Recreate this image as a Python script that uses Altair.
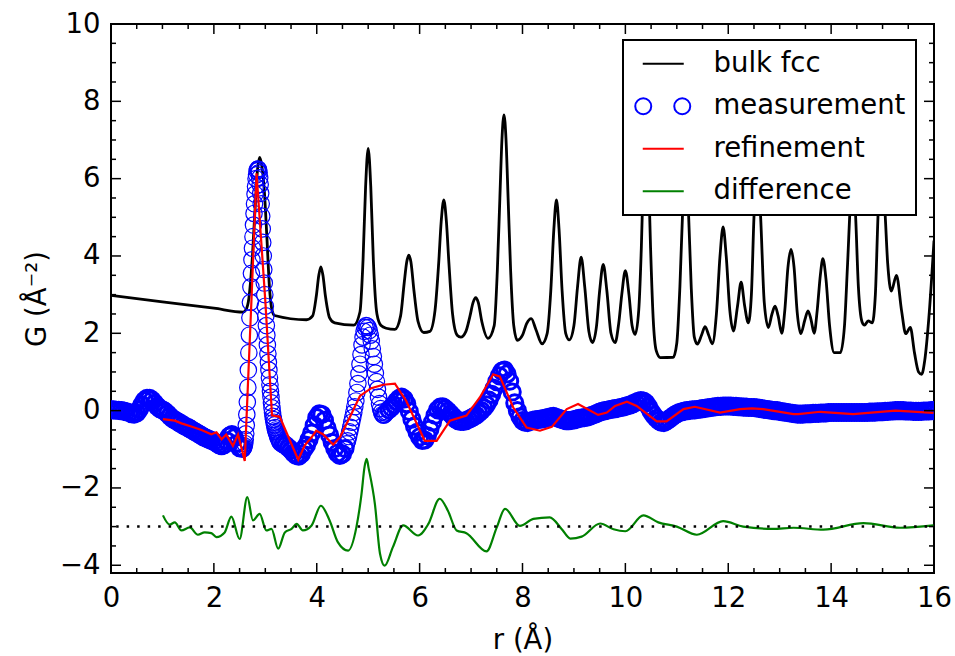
import altair as alt
import pandas as pd

FONT = "DejaVu Sans"
FS = 27.5
W, H = 823, 549

# ---------------- data ----------------
fcc_r = [0.00, 1.00, 2.00, 2.57, 2.62, 2.68, 2.74, 2.80, 2.85, 2.89, 2.93, 2.98, 3.03, 3.08, 3.13, 3.18,
         3.80, 3.92, 3.99, 4.04, 4.08, 4.12, 4.17, 4.25, 4.35, 4.72, 4.84, 4.90, 4.95, 5.00, 5.05, 5.10,
         5.17, 5.25, 5.35, 5.52, 5.63, 5.70, 5.75, 5.79, 5.83, 5.89, 5.97, 6.08, 6.20, 6.30, 6.37, 6.42,
         6.47, 6.52, 6.57, 6.64, 6.73, 6.80, 6.90, 6.98, 7.04, 7.09, 7.14, 7.21, 7.33, 7.45, 7.51, 7.56,
         7.60, 7.64, 7.68, 7.72, 7.77, 7.83, 7.90, 8.00, 8.08, 8.17, 8.26, 8.38, 8.48, 8.55, 8.61, 8.66,
         8.71, 8.77, 8.84, 8.91, 9.00, 9.07, 9.14, 9.21, 9.29, 9.36, 9.44, 9.50, 9.57, 9.64, 9.72, 9.80,
         9.87, 9.93, 10.00, 10.07, 10.13, 10.19, 10.26, 10.31, 10.36, 10.40, 10.44, 10.49, 10.54, 10.60,
         10.68, 10.93, 11.00, 11.06, 11.12, 11.17, 11.22, 11.28, 11.34, 11.40, 11.48, 11.55, 11.62, 11.69,
         11.77, 11.84, 11.90, 11.96, 12.03, 12.10, 12.18, 12.25, 12.32, 12.39, 12.45, 12.50, 12.57, 12.63,
         12.70, 12.78, 12.85, 12.91, 12.97, 13.04, 13.10, 13.16, 13.22, 13.28, 13.34, 13.41, 13.49, 13.55,
         13.61, 13.67, 13.73, 13.79, 13.84, 13.90, 13.97, 14.06, 14.18, 14.26, 14.32, 14.38, 14.42, 14.47,
         14.53, 14.60, 14.65, 14.72, 14.80, 14.86, 14.92, 14.98, 15.04, 15.10, 15.17, 15.27, 15.37, 15.45,
         15.54, 15.62, 15.70, 15.76, 15.82, 15.90, 16.00]
fcc_g = [2.98, 2.81, 2.65, 2.55, 2.60, 2.90, 3.80, 5.20, 6.25, 6.55, 6.35, 5.70, 4.50, 3.20, 2.60, 2.46,
         2.35, 2.45, 2.95, 3.50, 3.72, 3.50, 2.95, 2.40, 2.27, 2.21, 2.55, 3.90, 5.80, 6.78, 5.80, 3.90,
         2.50, 2.20, 2.13, 2.10, 2.45, 3.30, 3.85, 4.02, 3.85, 3.10, 2.30, 2.02, 2.05, 2.60, 3.80, 4.90,
         5.45, 4.90, 3.80, 2.50, 1.95, 1.90, 2.05, 2.45, 2.80, 2.92, 2.80, 2.30, 1.87, 2.20, 3.60, 5.50,
         7.00, 7.65, 7.00, 5.50, 3.60, 2.20, 1.82, 1.95, 2.25, 2.38, 2.10, 1.73, 2.00, 3.10, 4.70, 5.45,
         4.70, 3.10, 2.00, 1.83, 2.20, 3.20, 3.97, 3.20, 2.05, 1.76, 2.20, 3.10, 3.78, 3.10, 2.00, 1.76,
         2.25, 3.00, 3.62, 3.00, 2.20, 1.97, 2.60, 4.20, 6.60, 8.00, 6.60, 4.20, 2.40, 1.55,
         1.37, 1.38, 1.75, 3.20, 5.40, 6.50, 5.40, 3.20, 1.90, 1.72, 1.95, 2.17, 1.95, 1.73,
         2.50, 4.00, 4.75, 4.00, 2.60, 2.06, 2.70, 3.32, 2.70, 2.27, 3.00, 5.00, 6.40, 5.00,
         2.80, 2.15, 2.50, 2.70, 2.45, 2.00, 2.60, 3.70, 4.17, 3.70, 2.55, 1.99, 2.35, 2.58,
         2.35, 2.00, 2.60, 3.50, 3.93, 3.40, 2.20, 1.50, 1.50, 2.20, 3.80, 5.50, 6.00, 5.20,
         3.20, 2.30, 2.21, 2.32, 2.27, 3.00, 5.30, 6.00, 5.30, 3.80, 3.09, 3.50, 2.58, 1.99,
         2.15, 1.50, 1.00, 0.94, 1.30, 2.40, 4.40]

# measurement, read in segments on a regular r grid: (start, step, values)
meas_a = (0.00, 0.05, [0.02, 0.02, 0.01, 0.01, 0.00, -0.01, -0.03, -0.05, -0.08, -0.09, -0.06, 0.03, 0.15,
                       0.26, 0.32, 0.32, 0.27, 0.19, 0.11, 0.05, 0.02, -0.02, -0.08, -0.15, -0.21, -0.25,
                       -0.29, -0.33, -0.37, -0.41, -0.44, -0.48, -0.52, -0.56, -0.60, -0.64, -0.68, -0.71,
                       -0.74, -0.77, -0.80, -0.84, -0.88, -0.91, -0.88, -0.78, -0.66, -0.62, -0.70, -0.85,
                       -0.96, -0.98])
meas_b = (2.56, 0.01, [-0.98, -0.97, -0.95, -0.91, -0.85, -0.75, -0.60, -0.38, -0.10, 0.22, 0.60, 1.05,
                       1.50, 1.95, 2.40, 2.80, 3.20, 3.55, 3.90, 4.20, 4.50, 4.80, 5.10, 5.35, 5.60, 5.80,
                       6.00, 6.10, 6.20, 6.24, 6.25, 6.22, 6.15, 6.02, 5.85, 5.62, 5.35, 5.03, 4.70, 4.35,
                       4.00, 3.65, 3.30, 3.00, 2.70, 2.45, 2.20, 1.95, 1.70, 1.47, 1.25, 1.05, 0.85, 0.67,
                       0.50, 0.35, 0.20, 0.07, -0.05, -0.15, -0.23, -0.30, -0.37, -0.44, -0.50, -0.54,
                       -0.58, -0.62, -0.66, -0.70, -0.73, -0.76, -0.79, -0.82, -0.84])
meas_c = (3.35, 0.05, [-0.86, -0.90, -0.96, -1.02, -1.10, -1.16, -1.18, -1.12, -1.00, -0.90, -0.75, -0.58,
                       -0.38, -0.18, -0.08, -0.10, -0.25, -0.45, -0.63, -0.82, -0.98, -1.10, -1.16, -1.12,
                       -0.98])
meas_d = (4.58, 0.02, [-0.86, -0.78, -0.67, -0.55, -0.43, -0.30, -0.18, -0.05, 0.10, 0.25, 0.47, 0.70,
                       0.95, 1.20, 1.45, 1.70, 1.90, 2.05, 2.15, 2.20, 2.19, 2.15, 2.07, 1.95, 1.80, 1.60,
                       1.40, 1.20, 0.97, 0.75, 0.55, 0.35, 0.18, 0.05, -0.04, -0.10, -0.12, -0.10, -0.06,
                       -0.03])
meas_e = (5.40, 0.05, [0.02, 0.08, 0.15, 0.24, 0.31, 0.35, 0.30, 0.18, -0.02, -0.22, -0.40, -0.56, -0.68,
                       -0.77, -0.76, -0.65, -0.48, -0.30, -0.12, 0.02, 0.09, 0.10, 0.05, -0.01, -0.08,
                       -0.15, -0.22, -0.26, -0.28, -0.28, -0.26, -0.23, -0.20, -0.16, -0.12, -0.06, 0.00,
                       0.07, 0.15, 0.27, 0.42, 0.58, 0.75, 0.90, 1.02, 1.05, 0.95, 0.76, 0.48, 0.20, 0.00,
                       -0.16, -0.26, -0.30, -0.31, -0.28, -0.25, -0.24, -0.23, -0.22, -0.21, -0.19, -0.18,
                       -0.16, -0.15, -0.17, -0.20, -0.22, -0.24, -0.26, -0.26, -0.25, -0.24, -0.22, -0.20,
                       -0.19, -0.18, -0.17, -0.15, -0.12, -0.10, -0.07, -0.04, -0.02, 0.00, 0.01, 0.03,
                       0.04, 0.05, 0.06, 0.08, 0.09, 0.11, 0.13, 0.15, 0.18, 0.21, 0.24, 0.26, 0.25, 0.20,
                       0.10, -0.02, -0.12, -0.20, -0.26, -0.30, -0.31, -0.27, -0.22, -0.17, -0.12, -0.08,
                       -0.05, -0.03, -0.01, 0.00, 0.01, 0.02, 0.02, 0.03, 0.04, 0.05, 0.06, 0.07, 0.08,
                       0.09, 0.10, 0.11, 0.11, 0.12, 0.12, 0.12, 0.12, 0.11, 0.11, 0.10, 0.10, 0.09, 0.09,
                       0.08, 0.08, 0.08, 0.07, 0.06, 0.05, 0.04, 0.03, 0.02, 0.01, 0.00, 0.00, -0.02,
                       -0.03, -0.04, -0.05, -0.06, -0.07, -0.08, -0.09, -0.09, -0.09, -0.08, -0.08, -0.08,
                       -0.07, -0.07, -0.07, -0.06, -0.06, -0.06, -0.05, -0.05, -0.05, -0.05, -0.05, -0.05,
                       -0.05, -0.05, -0.05, -0.05, -0.05, -0.05, -0.05, -0.05, -0.05, -0.05, -0.04, -0.04,
                       -0.04, -0.03, -0.03, -0.03, -0.02, -0.02, -0.01, -0.01, 0.00, 0.00, 0.00, 0.00,
                       -0.01, -0.01, -0.01, -0.02, -0.02, -0.02, -0.02, -0.01, -0.01, -0.01, 0.00, 0.00])

ref_r = [1.01, 1.24, 1.37, 1.56, 1.76, 1.95, 2.05, 2.15, 2.24, 2.37, 2.47, 2.60, 2.73, 2.83, 3.00, 3.13,
         3.28, 3.64, 3.77, 3.90, 3.99, 4.12, 4.32, 4.45, 4.64, 4.84, 5.06, 5.29, 5.52, 5.74, 6.10, 6.33,
         6.59, 6.91, 7.17, 7.43, 7.56, 7.82, 8.08, 8.34, 8.57, 8.86, 9.08, 9.47, 9.64, 9.80, 10.03, 10.22,
         10.61, 10.80, 11.13, 11.35, 11.84, 12.23, 12.46, 12.68, 13.27, 13.36, 13.79, 14.43, 15.25, 15.99]
ref_g = [-0.22, -0.26, -0.33, -0.41, -0.50, -0.61, -0.56, -0.74, -0.62, -0.91, -0.62, -1.30, 2.84, 6.14,
         2.84, -0.12, -0.16, -1.27, -0.89, -0.69, -0.52, -0.61, -0.88, -0.69, -0.18, 0.38, 0.58, 0.67,
         0.70, 0.25, -0.78, -0.78, -0.26, -0.13, 0.34, 0.94, 0.88, 0.08, -0.44, -0.52, -0.42, 0.04, 0.17,
         -0.11, -0.05, 0.12, 0.23, 0.12, -0.28, -0.28, 0.04, 0.10, -0.05, 0.04, 0.06, 0.04, -0.09, -0.09,
         -0.03, -0.09, 0.00, -0.06]

diff_r = [1.01, 1.14, 1.24, 1.37, 1.53, 1.69, 1.82, 1.95, 2.05, 2.21, 2.34, 2.50, 2.65, 2.76, 2.89, 3.02,
          3.12, 3.25, 3.38, 3.51, 3.61, 3.73, 3.90, 4.08, 4.25, 4.41, 4.61, 4.77, 4.87, 4.93, 4.97, 5.01,
          5.13, 5.23, 5.32, 5.48, 5.68, 5.97, 6.17, 6.39, 6.55, 6.72, 6.91, 7.30, 7.50, 7.66, 7.95, 8.21,
          8.53, 8.76, 8.93, 9.15, 9.51, 9.77, 10.00, 10.35, 10.64, 11.00, 11.39, 11.90, 12.29, 12.87,
          13.27, 13.85, 14.63, 15.34, 15.99]
diff_g = [-2.71, -2.95, -2.89, -3.10, -3.02, -3.21, -3.15, -3.17, -3.27, -3.15, -2.74, -3.32, -2.24, -2.84,
          -2.67, -3.10, -3.06, -3.57, -3.15, -3.06, -2.93, -3.10, -2.97, -2.46, -2.84, -3.40, -3.62, -3.02,
          -2.16, -1.45, -1.25, -1.50, -2.41, -3.70, -4.01, -3.53, -2.97, -3.23, -2.93, -2.28, -2.59, -3.10,
          -3.17, -3.64, -3.02, -2.54, -2.98, -2.80, -2.76, -3.06, -3.31, -3.26, -2.92, -3.07, -3.12, -2.71,
          -2.89, -3.00, -3.21, -2.86, -3.00, -3.06, -3.03, -3.08, -2.91, -3.03, -2.97]

zero_line_r = [0.1, 16.0]
zero_line_g = [-3.0, -3.0]

x_major = [0, 2, 4, 6, 8, 10, 12, 14, 16]
y_major = [-4, -2, 0, 2, 4, 6, 8, 10]
x_minor = [v / 2 for v in range(0, 33) if v % 4]
y_minor = [v / 2 for v in range(-8, 21) if v % 4]

series = ["bulk fcc", "measurement", "refinement", "difference"]
series_colors = ["#000000", "#0000ff", "#ff0000", "#008000"]
LINE_SYM = "M-0.4,0L3.7,0"
CIRC_SYM = ("M-1.15,0A0.8,0.8,0,1,0,0.45,0A0.8,0.8,0,1,0,-1.15,0Z"
            "M2.75,0A0.8,0.8,0,1,0,4.35,0A0.8,0.8,0,1,0,2.75,0Z")
series_shapes = [LINE_SYM, CIRC_SYM, LINE_SYM, LINE_SYM]

# ---------------- build tables ----------------
def seg_rows(seg):
    start, step, vals = seg
    return [(round(start + step * i, 3), v) for i, v in enumerate(vals)]

coarse_rows, fine_rows = [], []
for s in (meas_a, meas_c, meas_e):
    coarse_rows += seg_rows(s)
for s in (meas_b, meas_d):
    fine_rows += seg_rows(s)
meas_coarse_df = pd.DataFrame(coarse_rows, columns=["r", "g"])
meas_fine_df = pd.DataFrame(fine_rows, columns=["r", "g"])
fcc_df = pd.DataFrame({"r": fcc_r, "g": fcc_g})
ref_df = pd.DataFrame({"r": ref_r, "g": ref_g})
diff_df = pd.DataFrame({"r": diff_r, "g": diff_g})
zl_df = pd.DataFrame({"r": zero_line_r, "g": zero_line_g})

xs = alt.Scale(domain=[0, 16], nice=False, zero=False)
ys = alt.Scale(domain=[-4.2, 10], nice=False, zero=False)
XT = "r (Å)"
YT = "G (Å⁻²)"

def X(field="r"):
    return alt.X(f"{field}:Q", scale=xs, title=XT,
                 axis=alt.Axis(values=x_major, labelPadding=11, labelFlush=False,
                               titleBaseline="alphabetic", titleY=75))

def Y(field="g"):
    return alt.Y(f"{field}:Q", scale=ys, title=YT,
                 axis=alt.Axis(values=y_major, labelPadding=11, labelFlush=False,
                               titleBaseline="alphabetic", titleX=-66, titleY=H / 2,
                               titleAngle=270))

fcc = alt.Chart(fcc_df).mark_line(color="black", strokeWidth=2.8, interpolate="monotone",
                                  clip=True).encode(x=X(), y=Y(), order="r:Q")
meas_coarse = alt.Chart(meas_coarse_df).mark_point(
    shape="circle", filled=False, size=260, color="#0000ff", strokeWidth=3.0, opacity=1,
    clip=True).encode(x=X(), y=Y())
meas_fine = alt.Chart(meas_fine_df).mark_point(
    shape="circle", filled=False, size=270, color="#0000ff", strokeWidth=1.2, opacity=1,
    clip=True).encode(x=X(), y=Y())
ref = alt.Chart(ref_df).mark_line(color="#ff0000", strokeWidth=2.2, clip=True).encode(
    x=X(), y=Y(), order="r:Q")
diff = alt.Chart(diff_df).mark_line(color="#008000", strokeWidth=2.2, interpolate="monotone",
                                    clip=True).encode(x=X(), y=Y(), order="r:Q")
zl = alt.Chart(zl_df).mark_line(color="black", strokeWidth=2.5, strokeDash=[2.5, 8],
                                clip=True).encode(x=X(), y=Y(), order="r:Q")

# inward ticks on all four sides
def xticks(vals, length):
    df = pd.DataFrame({"r": vals})
    bottom = alt.Chart(df).mark_rule(color="black", strokeWidth=1.5).encode(
        x=X(), y=alt.value(H), y2=alt.value(H - length))
    top = alt.Chart(df).mark_rule(color="black", strokeWidth=1.5).encode(
        x=X(), y=alt.value(0), y2=alt.value(length))
    return [bottom, top]

def yticks(vals, length):
    df = pd.DataFrame({"g": vals})
    left = alt.Chart(df).mark_rule(color="black", strokeWidth=1.5).encode(
        y=Y(), x=alt.value(0), x2=alt.value(length))
    right = alt.Chart(df).mark_rule(color="black", strokeWidth=1.5).encode(
        y=Y(), x=alt.value(W), x2=alt.value(W - length))
    return [left, right]

ticks = xticks(x_major, 10) + xticks(x_minor, 5) + yticks(y_major, 10) + yticks(y_minor, 5)

leg = alt.Legend(title=None, orient="none", legendX=512, legendY=16, symbolSize=400,
                 symbolStrokeWidth=2, symbolOpacity=1, labelFontSize=FS, labelFont=FONT,
                 labelColor="black", labelOffset=53, labelLimit=600, padding=10, rowPadding=13.5,
                 fillColor="white", strokeColor="black", cornerRadius=0)
leg_df = pd.DataFrame({"series": series, "r": [-5.0] * 4, "g": [-20.0] * 4})
legend_layer = alt.Chart(leg_df).mark_point(filled=False, clip=True).encode(
    x=X(), y=Y(),
    color=alt.Color("series:N", scale=alt.Scale(domain=series, range=series_colors), legend=leg),
    shape=alt.Shape("series:N", scale=alt.Scale(domain=series, range=series_shapes), legend=leg),
)

chart = alt.layer(fcc, meas_coarse, meas_fine, ref, diff, zl, *ticks, legend_layer).properties(
    width=W, height=H,
    padding={"left": 111, "top": 24, "right": 21, "bottom": 83},
    autosize=alt.AutoSizeParams(type="none"),
    background="white",
).configure_view(stroke="black", strokeWidth=2).configure_axis(
    ticks=False, domain=False, grid=False, labelFont=FONT, labelFontSize=FS, labelColor="black",
    titleFont=FONT, titleFontSize=FS, titleFontWeight="normal", titleColor="black",
).configure_legend(strokeWidth=2)

chart.save("out.html", embed_options={"renderer": "svg", "actions": False})
